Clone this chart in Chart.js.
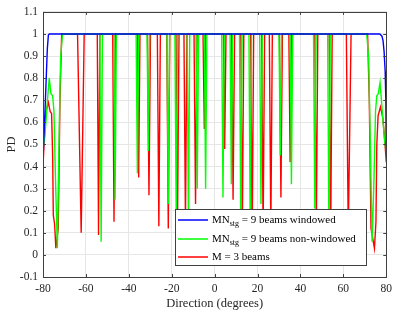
<!DOCTYPE html>
<html>
<head>
<meta charset="utf-8">
<script src="https://cdn.jsdelivr.net/npm/chart.js@4.4.0/dist/chart.umd.min.js"></script>
<style>
  html, body { margin: 0; padding: 0; background: #fff; }
</style>
</head>
<body>
<canvas id="myChart" width="397" height="316"></canvas>
<script>
// x ticks, y ticks
const xTicks = [-80, -60, -40, -20, 0, 20, 40, 60, 80];
const yTicks = [-0.1, 0, 0.1, 0.2, 0.3, 0.4, 0.5, 0.6, 0.7, 0.8, 0.9, 1, 1.1];

// MN_stg = 9 beams windowed
const blueX = [-80, -79.5, -79, -78.5, -78, -77.5, -77, 77, 78, 78.5, 79, 79.5, 79.8, 80];
const blueY = [0.43, 0.55, 0.67, 0.8, 0.93, 0.995, 1, 1, 0.99, 0.97, 0.92, 0.83, 0.7, 0.46];

// MN_stg = 9 beams non-windowed
const greenX = [-80, -79.1, -78.3, -77.6, -77.1, -76.3, -75.5, -74.9, -74.2, -73.3, -72.4, -71.8, -70.9,
  -53.5, -52.9, -52.3, -47.0, -46.4, -45.8, -36.6, -36.0, -35.4, -31.5, -30.9, -30.3,
  -22.2, -21.6, -21.0, -18.5, -17.9, -17.3, -12.8, -12.2, -11.6, -8.7, -8.1, -7.5, -4.8, -4.2, -3.6,
  3.3, 3.9, 4.5, 7.2, 7.8, 8.4, 11.6, 12.2, 12.8, 16.0, 16.6, 17.2, 21.0, 21.6, 22.2,
  30.0, 30.6, 31.2, 35.2, 35.8, 36.4, 46.1, 46.7, 47.3, 52.7, 53.3, 53.9,
  70.9, 71.8, 72.4, 73.4, 74.3, 75.0, 75.6, 76.3, 77.1, 77.6, 78.3, 79.1, 80];
const greenY = [0.48, 0.54, 0.65, 0.74, 0.80, 0.73, 0.72, 0.65, 0.35, 0.03, 0.59, 0.89, 1,
  1, 0.06, 1, 1, 0.25, 1, 1, 0.37, 1, 1, 0.47, 1,
  1, 0.23, 1, 1, 0.16, 1, 1, 0.12, 1, 1, 0.30, 1, 1, 0.30, 1,
  1, 0.26, 1, 1, 0.32, 1, 1, 0.14, 1, 1, 0.1, 1, 1, 0.23, 1,
  1, 0.45, 1, 1, 0.32, 1, 1, 0.21, 1, 1, 0.06, 1,
  1, 0.89, 0.59, 0.06, 0.35, 0.65, 0.72, 0.73, 0.78, 0.72, 0.63, 0.53, 0.46];

// M = 3 beams
const redX = [-80, -79.3, -78.6, -77.5, -76.7, -76.0, -75.5, -75.2, -74.6, -74.0, -72.9, -72.1, -71.3,
  -63.9, -62.2, -60.8, -54.7, -54.1, -53.5, -47.5, -46.9, -46.3, -36.0, -35.4, -34.8,
  -31.3, -30.6, -29.9, -26.7, -26.0, -25.3, -22.3, -21.6, -20.9, -18.0, -17.3, -16.6,
  -14.3, -13.6, -12.9, -9.6, -8.9, -8.2, -5.4, -4.8, -4.2,
  4.1, 4.7, 5.3, 7.9, 8.6, 9.3, 12.2, 12.9, 13.6, 16.8, 17.5, 18.2, 21.9, 22.6, 23.3,
  25.5, 26.2, 26.9, 30.2, 30.9, 31.6, 34.6, 35.2, 35.8, 46.7, 47.4, 48.1, 53.4, 54.1, 54.8,
  61.4, 62.3, 63.6,
  71.3, 72.1, 72.9, 74.5, 75.2, 75.6, 76.2, 77.3, 78.4, 79.3, 80];
const redY = [0.40, 0.55, 0.65, 0.69, 0.65, 0.64, 0.45, 0.18, 0.14, 0.03, 0.12, 0.70, 1,
  1, 0.10, 1, 1, 0.09, 1, 1, 0.15, 1, 1, 0.35, 1,
  1, 0.27, 1, 1, 0.13, 1, 1, 0.12, 1, 1, 0.15, 1,
  1, 0.15, 1, 1, 0.23, 1, 1, 0.57, 1,
  1, 0.48, 1, 1, 0.25, 1, 1, 0.1, 1, 1, 0.08, 1, 1, 0.1, 1,
  1, 0.12, 1, 1, 0.26, 1, 1, 0.42, 1, 1, 0.12, 1, 1, 0.1, 1,
  1, 0.1, 1,
  1, 0.70, 0.12, 0.03, 0.15, 0.5, 0.63, 0.67, 0.62, 0.52, 0.42];

const seriesLabels = ['MN|stg| = 9 beams windowed', 'MN|stg| = 9 beams non-windowed', 'M = 3 beams'];
const seriesColors = ['rgb(0,0,255)', 'rgb(0,255,0)', 'rgb(255,0,0)'];

const FONT = 'Liberation Serif';
const TXT = '#262626';

function pts(xs, ys) {
  return xs.map((x, i) => ({ x: x, y: ys[i] }));
}

const data = {
  datasets: [
    { label: seriesLabels[0], data: pts(blueX, blueY), borderColor: seriesColors[0], order: 0 },
    { label: seriesLabels[1], data: pts(greenX, greenY), borderColor: seriesColors[1], order: 1 },
    { label: seriesLabels[2], data: pts(redX, redY), borderColor: seriesColors[2], order: 2 }
  ]
};

// box round the axes, ticks inward, legend with subscripts
const matlabBits = {
  id: 'matlabBits',
  afterDatasetsDraw(chart) {
    const ctx = chart.ctx;
    const a = chart.chartArea;
    const xs = chart.scales.x, ys = chart.scales.y;
    ctx.save();
    ctx.strokeStyle = '#404040';
    ctx.lineWidth = 1;
    ctx.beginPath();
    xTicks.forEach(t => {
      const px = Math.round(xs.getPixelForValue(t)) + 0.5;
      ctx.moveTo(px, a.bottom); ctx.lineTo(px, a.bottom - 3);
      ctx.moveTo(px, a.top); ctx.lineTo(px, a.top + 3);
    });
    yTicks.forEach(t => {
      const py = Math.round(ys.getPixelForValue(t)) + 0.5;
      ctx.moveTo(a.left, py); ctx.lineTo(a.left + 3, py);
      ctx.moveTo(a.right, py); ctx.lineTo(a.right - 3, py);
    });
    ctx.stroke();
    ctx.strokeRect(Math.round(a.left) + 0.5, Math.round(a.top) + 0.5,
      Math.round(a.right - a.left), Math.round(a.bottom - a.top));

    // legend
    const bx = 175.5, by = 209.5, bw = 191, bh = 56;
    ctx.fillStyle = '#fff';
    ctx.fillRect(bx, by, bw, bh);
    ctx.strokeStyle = '#404040';
    ctx.strokeRect(bx, by, bw, bh);
    const rows = [220, 239, 257];
    ctx.textBaseline = 'middle';
    ctx.textAlign = 'left';
    seriesLabels.forEach((lab, i) => {
      ctx.strokeStyle = seriesColors[i];
      ctx.lineWidth = 1.5;
      ctx.beginPath();
      ctx.moveTo(178, rows[i]); ctx.lineTo(208, rows[i]);
      ctx.stroke();
      ctx.fillStyle = '#000';
      let x = 212;
      lab.split('|').forEach((part, k) => {
        if (k % 2 == 1) {
          ctx.font = '8px "' + FONT + '"';
          ctx.fillText(part, x, rows[i] + 4);
        } else {
          ctx.font = '11px "' + FONT + '"';
          ctx.fillText(part, x, rows[i]);
        }
        x += ctx.measureText(part).width;
      });
    });
    ctx.restore();
  }
};

const config = {
  type: 'line',
  data: data,
  options: {
    responsive: false,
    animation: false,
    layout: { padding: { top: 5, right: 10, left: 0, bottom: 0 } },
    elements: {
      point: { radius: 0 },
      line: { borderWidth: 1.4, tension: 0 }
    },
    plugins: {
      legend: { display: false },
      tooltip: { enabled: false }
    },
    scales: {
      x: {
        type: 'linear',
        min: -80, max: 80,
        afterBuildTicks(s) { s.ticks = xTicks.map(v => ({ value: v })); },
        ticks: { font: { family: FONT, size: 11.5 }, color: TXT, padding: 5, maxRotation: 0 },
        grid: { color: '#e6e6e6', drawTicks: false },
        border: { display: false },
        title: { display: true, text: 'Direction (degrees)', color: TXT, font: { family: FONT, size: 12.5 }, padding: { top: 0, bottom: 5 } },
        afterFit(s) { s.height = 39; }
      },
      y: {
        type: 'linear',
        min: -0.1, max: 1.1,
        afterBuildTicks(s) { s.ticks = yTicks.map(v => ({ value: v })); },
        ticks: {
          font: { family: FONT, size: 11.5 }, color: TXT, padding: 5,
          callback: v => String(Math.round(v * 10) / 10)
        },
        grid: { color: '#e6e6e6', drawTicks: false },
        border: { display: false },
        title: { display: true, text: 'PD', color: TXT, font: { family: FONT, size: 12.5 }, padding: { top: 4, bottom: 0 } },
        afterFit(s) { s.width = 43; }
      }
    }
  },
  plugins: [matlabBits]
};

const myChart = new Chart(document.getElementById('myChart'), config);
</script>
</body>
</html>
